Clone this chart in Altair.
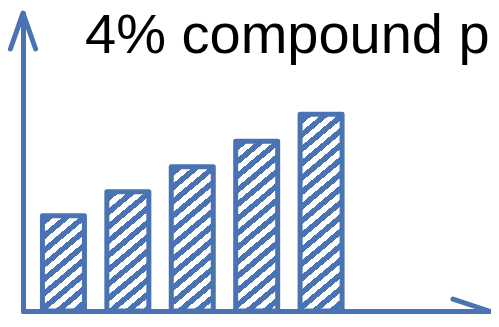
import math
import altair as alt
import pandas as pd

# ---- data ----
periods = [1, 2, 3, 4, 5]
values = [100.0, 104.0, 108.2, 112.5, 117.0]
title_text = "4% compound p"

# ---- style / layout ----
BLUE = "#4a73b3"
W, H = 466, 298
Y_DOMAIN = [84, 134]
X_DOMAIN = [0.45, 7.529]
BAR_W = 42
STROKE = 5
THETA = math.radians(40)
PERIOD = 11.0
THICK = 5.5

df = pd.DataFrame({"period": periods, "value": values})


def hatch(v):
    """Diagonal hatch fill built as a hard-stop linear gradient."""
    h = (v - Y_DOMAIN[0]) / (Y_DOMAIN[1] - Y_DOMAIN[0]) * H
    s, c = math.sin(THETA), math.cos(THETA)
    D = BAR_W * s + h * c
    k = D / (BAR_W ** 2 * s * s + h * h * c * c)
    GS = alt.GradientStop
    stops = [GS(offset=0, color="white")]
    pos = 3.0
    while pos < D:
        a = pos / D
        b = min((pos + THICK) / D, 1.0)
        stops += [GS(offset=a, color="white"), GS(offset=a, color=BLUE),
                  GS(offset=b, color=BLUE), GS(offset=b, color="white")]
        pos += PERIOD
    stops.append(GS(offset=1, color="white"))
    return alt.Gradient(gradient="linear", stops=stops,
                        x1=0, y1=0, x2=k * BAR_W * s, y2=k * h * c)


axis_style = dict(domain=True, domainColor=BLUE, domainWidth=STROKE,
                  domainCap="round", ticks=False, labels=False, grid=False,
                  title=None)
x_enc = alt.X("period:Q", scale=alt.Scale(domain=X_DOMAIN, nice=False, zero=False),
              axis=alt.Axis(**axis_style))
y_enc = alt.Y("value:Q", scale=alt.Scale(domain=Y_DOMAIN, nice=False, zero=False, clamp=True),
              axis=alt.Axis(**axis_style))

layers = []
for p, v in zip(periods, values):
    layers.append(
        alt.Chart(df)
        .transform_filter(alt.datum.period == p)
        .mark_bar(width=BAR_W, fill=hatch(v), stroke=BLUE, strokeWidth=STROKE,
                  strokeJoin="round", opacity=1)
        .encode(x=x_enc, y=y_enc)
    )

one = pd.DataFrame({"k": [0]})
arrow_style = dict(filled=False, stroke=BLUE, strokeWidth=STROKE, strokeCap="round",
                   strokeJoin="round", opacity=1, size=72 ** 2)
y_arrow = alt.Chart(one).mark_point(shape="M-0.35,1L0,0L0.35,1", **arrow_style).encode(
    x=alt.value(0), y=alt.value(0))
x_arrow = alt.Chart(one).mark_point(shape="M-1,-0.33L0,0L-1,0.33", **arrow_style).encode(
    x=alt.value(W), y=alt.value(H))

chart = (
    alt.layer(*layers, y_arrow, x_arrow)
    .properties(
        width=W, height=H,
        title=alt.TitleParams(text=title_text, anchor="start", frame="group",
                              font="Liberation Sans", fontSize=56, fontWeight="normal",
                              color="black", baseline="alphabetic", offset=0,
                              dx=62, dy=98),
        autosize=alt.AutoSizeParams(type="none"),
        padding={"left": 15, "top": 5, "right": 2, "bottom": 3},
        background="white",
    )
    .configure_view(stroke=None)
)

chart.save("out.html", embed_options={"renderer": "svg", "actions": False})
